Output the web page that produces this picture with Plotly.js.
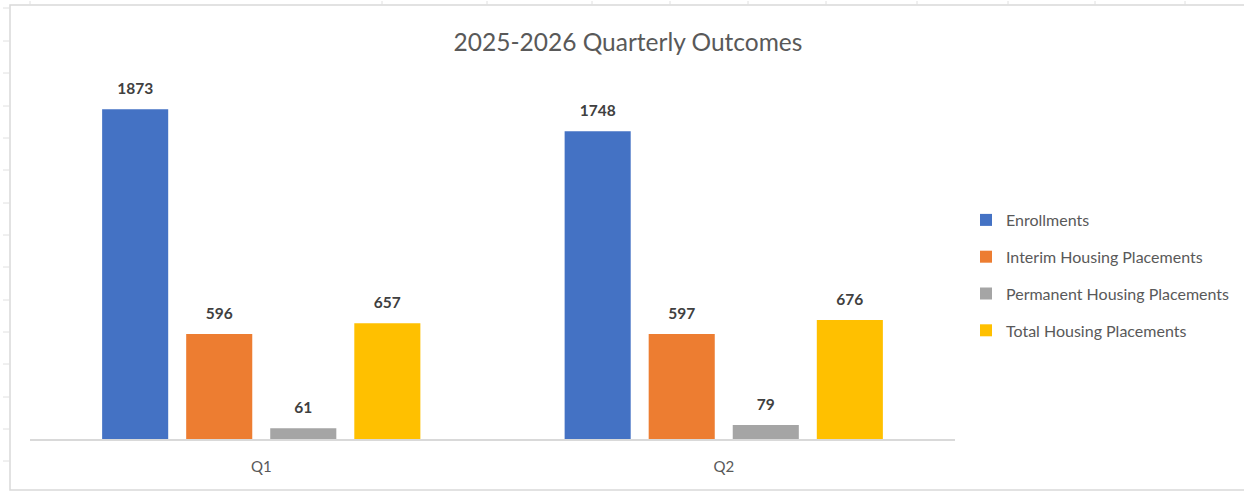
<!DOCTYPE html>
<html>
<head>
<meta charset="utf-8">
<script src="https://cdn.plot.ly/plotly-3.0.1.min.js"></script>
<style>html,body{margin:0;padding:0;background:#fff;}#chart{width:1244px;height:491px;}</style>
</head>
<body>
<div id="chart"></div>
<script>
const categories = ["Q1", "Q2"];
const seriesNames = ["Enrollments", "Interim Housing Placements", "Permanent Housing Placements", "Total Housing Placements"];
const enrollments = [1873, 1748];
const interimPlacements = [596, 597];
const permanentPlacements = [61, 79];
const totalPlacements = [657, 676];
const seriesColors = ["#4472C4", "#ED7D31", "#A5A5A5", "#FFC000"];

const FONT = "Lato, 'Open Sans', sans-serif";
const allSeries = [enrollments, interimPlacements, permanentPlacements, totalPlacements];

const traces = allSeries.map((vals, i) => ({
  type: "bar",
  name: seriesNames[i],
  x: categories,
  y: vals,
  marker: {color: seriesColors[i]},
  text: vals.map(v => String(v)),
  texttemplate: "<span style='font-size:15.5px'><b>%{text}</b></span><br> ",
  textposition: "outside",
  textfont: {family: FONT, size: 8, color: "#404040"},
  cliponaxis: false,
  legendgroup: "g" + i,
  hoverinfo: "none"
}));

// pixel -> paper helpers (plot area: x 30..955, y 87..439)
const L = 30, R = 955, T = 87, B = 439;
const px = v => (v - L) / (R - L);
const py = v => (B - v) / (B - T);

const shapes = [
  {type: "rect", xref: "paper", yref: "paper", x0: px(10), x1: px(1250), y0: py(5), y1: py(490),
   line: {color: "#D9D9D9", width: 1.5}, fillcolor: "rgba(0,0,0,0)", layer: "below"}
];
[8, 41, 73, 106, 138, 170, 203, 235, 267, 300, 332, 364, 397, 429, 461].forEach(y => {
  shapes.push({type: "line", xref: "paper", yref: "paper", x0: px(3), x1: px(10), y0: py(y), y1: py(y),
    line: {color: "#E0E0E0", width: 1}});
});
[30, 382, 487, 592, 670, 748, 826, 917, 1008, 1095, 1185].forEach(x => {
  shapes.push({type: "line", xref: "paper", yref: "paper", x0: px(x), x1: px(x), y0: py(1), y1: py(5),
    line: {color: "#E0E0E0", width: 1}});
});

const layout = {
  width: 1244, height: 491,
  margin: {l: L, r: 1244 - R, t: T, b: 491 - B, pad: 0, autoexpand: false},
  paper_bgcolor: "#ffffff", plot_bgcolor: "#ffffff",
  font: {family: FONT, color: "#595959"},
  title: {text: "2025-2026 Quarterly Outcomes", font: {family: FONT, size: 24.5, color: "#595959"},
          x: px(628), xref: "paper", xanchor: "center", y: 1 - 42 / 491, yanchor: "middle"},
  barmode: "group",
  bargap: 0.273,
  bargroupgap: 0.214,
  xaxis: {
    type: "category", showgrid: false, zeroline: false,
    showline: true, linecolor: "#D9D9D9", linewidth: 1.5,
    ticks: "", tickfont: {family: FONT, size: 15, color: "#595959"}, ticklabelstandoff: 13
  },
  yaxis: {range: [0, 2000], visible: false, showgrid: false, zeroline: false},
  showlegend: true,
  legend: {
    x: px(966), xanchor: "left", y: py(203), yanchor: "top",
    font: {family: FONT, size: 16, color: "#595959"},
    traceorder: "grouped", tracegroupgap: 13,
    itemwidth: 30, bgcolor: "rgba(0,0,0,0)"
  },
  shapes: shapes
};

Plotly.newPlot("chart", traces, layout, {staticPlot: true, displayModeBar: false});
</script>
</body>
</html>
